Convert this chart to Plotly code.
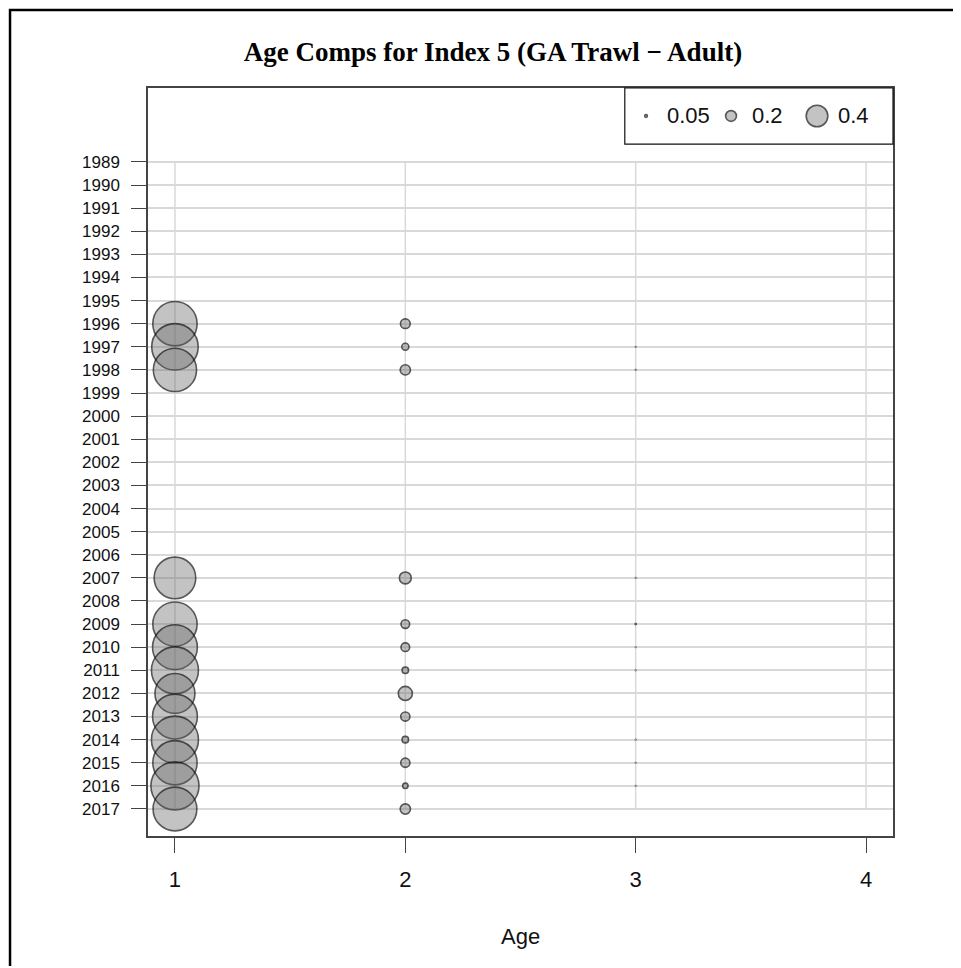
import plotly.graph_objects as go

# tick labels / categories
years = list(range(1989, 2018))
ages = [1, 2, 3, 4]

# observed proportions at age, by year
obs_years = [1996, 1997, 1998, 2007, 2009, 2010, 2011, 2012, 2013, 2014, 2015, 2016, 2017]
age1 = [0.82, 0.86, 0.80, 0.77, 0.82, 0.83, 0.87, 0.74, 0.83, 0.87, 0.82, 0.89, 0.81]
age2 = [0.18, 0.13, 0.19, 0.22, 0.16, 0.16, 0.12, 0.26, 0.17, 0.12, 0.17, 0.10, 0.19]
age3 = [0.00, 0.01, 0.01, 0.01, 0.02, 0.01, 0.01, 0.00, 0.00, 0.01, 0.01, 0.01, 0.00]

legend_vals = [0.05, 0.2, 0.4]

SCALE = 54  # px diameter per unit proportion
FILL = "rgba(100,100,100,0.55)"
EDGE = "#111111"

xs, ys, zs = [], [], []
for i, yr in enumerate(obs_years):
    for a, col in zip([1, 2, 3], [age1, age2, age3]):
        if col[i] > 0:
            xs.append(a)
            ys.append(yr)
            zs.append(col[i])

fig = go.Figure()
fig.add_trace(go.Scatter(
    x=xs, y=ys, mode="markers",
    marker=dict(size=[SCALE * z for z in zs], sizemode="diameter",
                color=FILL, line=dict(color=EDGE, width=1.6)),
    hoverinfo="x+y+text", text=[str(z) for z in zs], showlegend=False))

# bubble key, drawn on an overlay axis in the top-right box
key_x = [0.6685, 0.7826, 0.898]
fig.add_trace(go.Scatter(
    x=key_x, y=[0.9626] * 3, xaxis="x2", yaxis="y2", mode="markers",
    marker=dict(size=[SCALE * v for v in legend_vals], sizemode="diameter",
                color=FILL, line=dict(color=EDGE, width=1.6)),
    hoverinfo="skip", showlegend=False))
for kx, v in zip(key_x, legend_vals):
    fig.add_annotation(x=kx + 0.025, y=0.9626, xref="paper", yref="paper",
                       text=str(v), showarrow=False, xanchor="left", yanchor="middle",
                       font=dict(size=22, color="#111"))

shapes = []
# vertical grid only over the year range
for a in ages:
    shapes.append(dict(type="line", xref="x", yref="y", x0=a, x1=a,
                       y0=years[0], y1=years[-1], layer="below",
                       line=dict(color="#d9d9d9", width=1.5)))
# key box
shapes.append(dict(type="rect", xref="paper", yref="paper", x0=0.640, x1=1.0,
                   y0=0.925, y1=1.0, line=dict(color="#111", width=1.2)))
# outer frame
shapes.append(dict(type="rect", xref="paper", yref="paper", x0=-0.1852, x1=1.5,
                   y0=-0.5, y1=1.1043, line=dict(color="black", width=2.5)))

fig.add_annotation(x=0.5, y=-0.1337, xref="paper", yref="paper", text="Age",
                   showarrow=False, yanchor="middle",
                   font=dict(size=22, color="#111"))

H = 958
fig.update_layout(
    width=953, height=H,
    margin=dict(l=140, r=68, t=80, b=130),
    paper_bgcolor="white", plot_bgcolor="white",
    font=dict(family="Liberation Sans, Arial, sans-serif", color="#111"),
    title=dict(text="<b>Age Comps for Index 5 (GA Trawl \u2212 Adult)</b>",
               xref="paper", x=0.463, xanchor="center",
               yref="container", y=1 - 44 / H, yanchor="middle",
               font=dict(family="Liberation Serif, Times New Roman, serif", size=27, color="black")),
    shapes=shapes,
    xaxis=dict(range=[0.883, 4.117], tickvals=ages, ticktext=[str(a) for a in ages],
               showgrid=False, zeroline=False, showline=True, mirror=True,
               linecolor="#444", linewidth=1.5, ticks="outside", ticklen=15,
               tickcolor="#444", tickwidth=1.3, tickfont=dict(size=22, color="#111"),
               ticklabelstandoff=8),
    yaxis=dict(range=[2018.17, 1985.8], tickvals=years, ticktext=[str(y) for y in years],
               showgrid=True, gridcolor="#d9d9d9", gridwidth=1.5, zeroline=False,
               showline=True, mirror=True, linecolor="#444", linewidth=1.5,
               ticks="outside", ticklen=15, tickcolor="#444", tickwidth=1.3,
               tickfont=dict(size=17, color="#111"), ticklabelstandoff=8),
    xaxis2=dict(overlaying="x", range=[0, 1], visible=False),
    yaxis2=dict(overlaying="y", range=[0, 1], visible=False),
)

fig.write_html("out.html")
